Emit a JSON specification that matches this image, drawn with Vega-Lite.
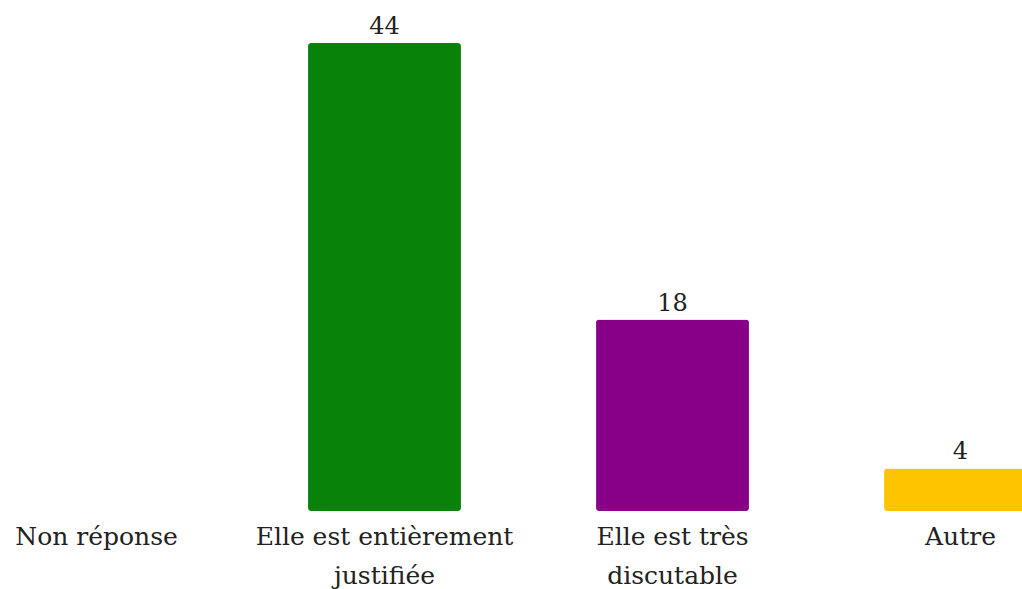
{
  "$schema": "https://vega.github.io/schema/vega-lite/v6.json",
  "width": 1022,
  "height": 589,
  "autosize": "none",
  "padding": 0,
  "background": "white",
  "config": {"view": {"stroke": null}},
  "data": {
    "values": [
      {"cat": "Non réponse", "value": 0},
      {"cat": "Elle est entièrement\njustifiée", "value": 44},
      {"cat": "Elle est très\ndiscutable", "value": 18},
      {"cat": "Autre", "value": 4}
    ]
  },
  "encoding": {
    "x": {
      "field": "cat",
      "type": "nominal",
      "sort": null,
      "axis": null,
      "scale": {"range": [-47.5, 1104.5], "paddingInner": 0.469, "paddingOuter": 0.2345}
    }
  },
  "layer": [
    {
      "mark": {"type": "bar", "cornerRadius": 3},
      "encoding": {
        "y": {"field": "value", "type": "quantitative", "axis": null, "scale": {"domain": [0, 44], "range": [511, 43], "nice": false, "zero": true}},
        "color": {
          "field": "cat",
          "type": "nominal",
          "legend": null,
          "scale": {
            "domain": ["Non réponse", "Elle est entièrement\njustifiée", "Elle est très\ndiscutable", "Autre"],
            "range": ["#cccccc", "#088208", "#880088", "#ffc400"]
          }
        }
      }
    },
    {
      "transform": [{"filter": "datum.value > 0"}],
      "mark": {"type": "text", "font": "DejaVu Serif", "fontSize": 24, "baseline": "alphabetic", "dy": -9, "color": "#222222"},
      "encoding": {
        "y": {"field": "value", "type": "quantitative"},
        "text": {"field": "value", "type": "quantitative"}
      }
    },
    {
      "mark": {"type": "text", "font": "DejaVu Serif", "fontSize": 25, "baseline": "alphabetic", "lineBreak": "\n", "lineHeight": 39, "dy": 34, "color": "#222222"},
      "encoding": {
        "y": {"datum": 0, "type": "quantitative"},
        "text": {"field": "cat", "type": "nominal"}
      }
    }
  ]
}
